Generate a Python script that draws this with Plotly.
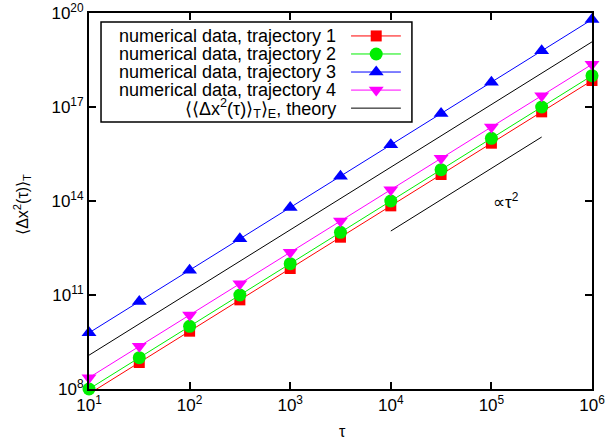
import numpy as np
import plotly.graph_objects as go

# ---- data ----
tau = [1e1, 3.16e1, 1e2, 3.16e2, 1e3, 3.16e3, 1e4, 3.16e4, 1e5, 3.16e5, 1e6]
traj1 = [7.0e7, 7.0e8, 7.0e9, 7.0e10, 7.0e11, 7.0e12, 7.0e13, 7.0e14, 7.0e15, 7.0e16, 7.0e17]
traj2 = [1.0e8, 1.0e9, 1.0e10, 1.0e11, 1.0e12, 1.0e13, 1.0e14, 1.0e15, 1.0e16, 1.0e17, 1.0e18]
traj3 = [6.2e9, 6.2e10, 6.2e11, 6.2e12, 6.2e13, 6.2e14, 6.2e15, 6.2e16, 6.2e17, 6.2e18, 6.2e19]
traj4 = [2.3e8, 2.3e9, 2.3e10, 2.3e11, 2.3e12, 2.3e13, 2.3e14, 2.3e15, 2.3e16, 2.3e17, 2.3e18]
theory_tau = [1e1, 1e6]
theory_val = [1.2e9, 1.2e19]
guide_tau = [1e4, 3.16e5]
guide_val = [1.1e13, 1.1e16]

series_names = ["numerical data, trajectory 1", "numerical data, trajectory 2",
                "numerical data, trajectory 3", "numerical data, trajectory 4"]
theory_name = "⟨⟨Δx<sup>2</sup>(τ)⟩<sub>T</sub>⟩<sub>E</sub>, theory"

x_tickvals = [1e1, 1e2, 1e3, 1e4, 1e5, 1e6]
x_ticktext = ["10<sup>1</sup>", "10<sup>2</sup>", "10<sup>3</sup>", "10<sup>4</sup>",
              "10<sup>5</sup>", "10<sup>6</sup>"]
y_tickvals = [1e8, 1e11, 1e14, 1e17, 1e20]
y_ticktext = ["10<sup>8</sup>", "10<sup>11</sup>", "10<sup>14</sup>", "10<sup>17</sup>",
              "10<sup>20</sup>"]

colors = ["#ff0000", "#00ee00", "#0000ff", "#ff00ff"]
symbols = ["square", "circle", "triangle-up", "triangle-down"]
sizes = [11, 13, 13, 13]
FONT = "Liberation Sans, Arial, Helvetica, sans-serif"

fig = go.Figure()

all_series = [traj1, traj2, traj3, traj4]
YMIN, YMAX = 1e8, 1e20
for vals, c, s, sz in zip(all_series, colors, symbols, sizes):
    fig.add_trace(go.Scatter(x=tau, y=vals, mode="lines",
                             line=dict(color=c, width=1), showlegend=False,
                             hoverinfo="skip"))
    xs = [t for t, v in zip(tau, vals) if YMIN * 0.999 <= v <= YMAX]
    ys = [v for v in vals if YMIN * 0.999 <= v <= YMAX]
    fig.add_trace(go.Scatter(x=xs, y=ys, mode="markers", cliponaxis=False,
                             marker=dict(symbol=s, size=sz, color=c, line=dict(width=0)),
                             showlegend=False))

fig.add_trace(go.Scatter(x=theory_tau, y=theory_val, mode="lines",
                         line=dict(color="black", width=1), showlegend=False))
fig.add_trace(go.Scatter(x=guide_tau, y=guide_val, mode="lines",
                         line=dict(color="black", width=1), showlegend=False))

# ---- custom legend (symbols on the right of right-aligned text) ----
row_y = [0.939, 0.891, 0.843, 0.795, 0.747]
lx0, lx1, lmark, ltext = 0.521, 0.620, 0.571, 0.495
for i, (c, s, sz) in enumerate(zip(colors, symbols, sizes)):
    fig.add_trace(go.Scatter(x=[lx0, lx1], y=[row_y[i], row_y[i]], mode="lines",
                             line=dict(color=c, width=1), xaxis="x2", yaxis="y2",
                             showlegend=False, hoverinfo="skip"))
    fig.add_trace(go.Scatter(x=[lmark], y=[row_y[i]], mode="markers",
                             marker=dict(symbol=s, size=sz, color=c, line=dict(width=0)),
                             xaxis="x2", yaxis="y2", showlegend=False, hoverinfo="skip"))
fig.add_trace(go.Scatter(x=[lx0, lx1], y=[row_y[4], row_y[4]], mode="lines",
                         line=dict(color="black", width=1), xaxis="x2", yaxis="y2",
                         showlegend=False, hoverinfo="skip"))

annotations = []
for i, name in enumerate(series_names + [theory_name]):
    annotations.append(dict(x=ltext, y=row_y[i], xref="paper", yref="paper",
                            text=name, showarrow=False, xanchor="right", yanchor="middle",
                            font=dict(family=FONT, size=18, color="black")))
annotations.append(dict(x=np.log10(1.4e5), y=14.0, xref="x", yref="y",
                        text="∝τ<sup>2</sup>", showarrow=False,
                        font=dict(family=FONT, size=17, color="black")))
# axis titles
annotations.append(dict(x=-0.133, y=0.49, xref="paper", yref="paper",
                        text="⟨Δx<sup>2</sup>(τ)⟩<sub>T</sub>", textangle=-90,
                        showarrow=False, xanchor="center", yanchor="middle",
                        font=dict(family=FONT, size=16, color="black")))
annotations.append(dict(x=0.503, y=-0.114, xref="paper", yref="paper",
                        text="τ", showarrow=False, xanchor="center", yanchor="middle",
                        font=dict(family=FONT, size=16, color="black")))

shapes = [dict(type="rect", xref="paper", yref="paper", x0=0.0239, x1=0.642,
               y0=0.710, y1=0.976, line=dict(color="black", width=1.5),
               fillcolor="rgba(0,0,0,0)")]

axis_common = dict(showline=True, linecolor="black", linewidth=2, mirror="ticks",
                   ticks="inside", ticklen=7, tickwidth=1.5, tickcolor="black",
                   showgrid=False, zeroline=False, automargin=False,
                   tickfont=dict(family=FONT, size=17, color="black"))

fig.update_layout(
    width=608, height=445,
    margin=dict(l=89, r=16, t=13, b=56),
    plot_bgcolor="white", paper_bgcolor="white",
    xaxis=dict(type="log", range=[1, 6], tickvals=x_tickvals, ticktext=x_ticktext,
               **axis_common),
    yaxis=dict(type="log", range=[8, 20], tickvals=y_tickvals, ticktext=y_ticktext,
               **axis_common),
    xaxis2=dict(domain=[0, 1], range=[0, 1], overlaying="x", visible=False,
                anchor="y2"),
    yaxis2=dict(domain=[0, 1], range=[0, 1], overlaying="y", visible=False,
                anchor="x2"),
    annotations=annotations,
    shapes=shapes,
    showlegend=False,
)

fig.write_html("out.html",
               config={"displayModeBar": False},
               post_script="document.body.style.margin='0px';"
                           "document.body.style.overflow='hidden';")
